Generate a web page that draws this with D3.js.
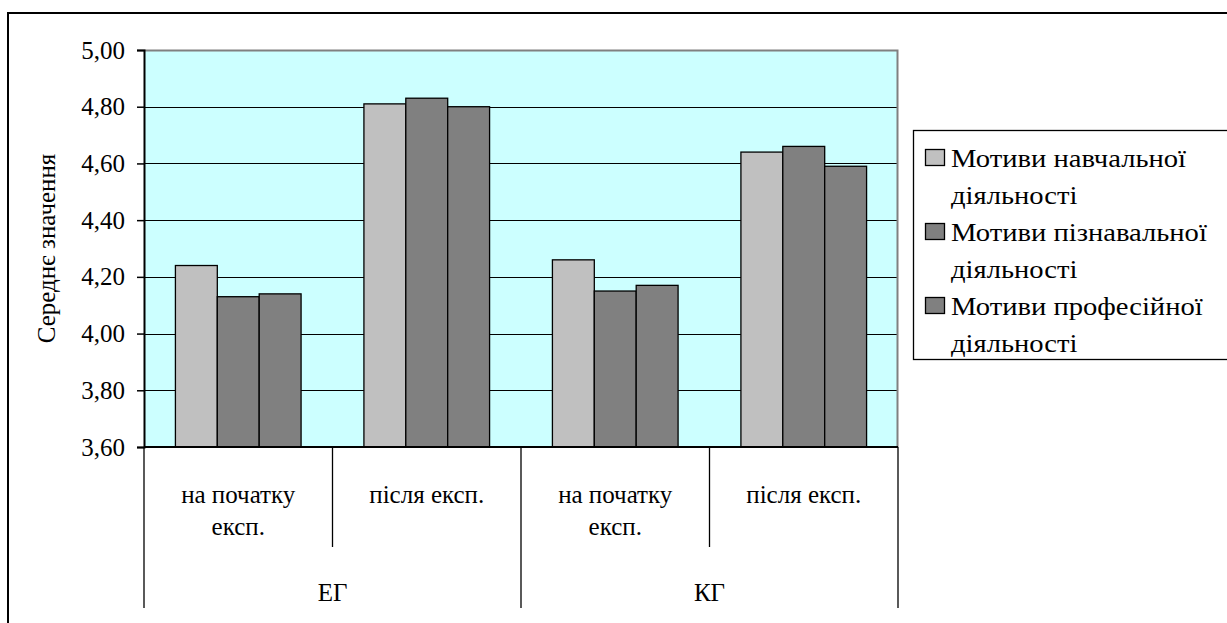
<!DOCTYPE html>
<html>
<head>
<meta charset="utf-8">
<script src="https://cdn.jsdelivr.net/npm/d3@7"></script>
</head>
<body style="margin:0">
<script>
// chart data
var groups = ["ЕГ", "КГ"];
var stages = [["на початку", "експ."], ["після експ."]];
var seriesNames = [
	["Мотиви навчальної", "діяльності"],
	["Мотиви пізнавальної", "діяльності"],
	["Мотиви професійної", "діяльності"]
];
var seriesColors = ["#c0c0c0", "#808080", "#808080"];
var navchalni = [4.24, 4.81, 4.26, 4.64];
var piznavalni = [4.13, 4.83, 4.15, 4.66];
var profesiini = [4.14, 4.80, 4.17, 4.59];
var yTicks = [3.6, 3.8, 4.0, 4.2, 4.4, 4.6, 4.8, 5.0];
var yTitle = "Середнє значення";

var values = [navchalni, piznavalni, profesiini];

var W = 1227, H = 623;
var plot = { left: 144, right: 898, top: 50, bottom: 447 };
var fontSize = 25;
var serif = "'Liberation Serif'";

var svg = d3.select("body")
	.append("svg")
	.attr("width", W)
	.attr("height", H)
	.attr("font-family", "Liberation Serif");

// every label goes through here so the serif face sticks
function label(parent, size){
	return parent.append("text")
		.attr("font-size", size)
		.attr("font-family", "Liberation Serif")
		.style("font-family", serif);
}

// outer chart frame (runs off the right and bottom edges)
svg.append("rect")
	.attr("x", 8)
	.attr("y", 13)
	.attr("width", W + 20)
	.attr("height", H + 20)
	.attr("fill", "#fff")
	.attr("stroke", "#000")
	.attr("stroke-width", 2);

// categories: every group x stage
var cats = [];
groups.forEach(function(g, gi){
	stages.forEach(function(s, si){
		cats.push(gi + "-" + si);
	});
});

var x0 = d3.scaleBand()
	.domain(cats)
	.range([plot.left, plot.right])
	.padding(0);

var x1 = d3.scaleBand()
	.domain(d3.range(seriesNames.length))
	.range([0, x0.bandwidth()])
	.paddingInner(0)
	.paddingOuter(0.75);

var y = d3.scaleLinear()
	.domain([3.6, 5.0])
	.range([plot.bottom, plot.top]);

var fmt = function(d){ return d3.format(".2f")(d).replace(".", ","); };

// plot background
svg.append("rect")
	.attr("x", plot.left)
	.attr("y", plot.top)
	.attr("width", plot.right - plot.left)
	.attr("height", plot.bottom - plot.top)
	.attr("fill", "#ccffff");

// gridlines
svg.append("g")
	.selectAll("line")
	.data(yTicks.slice(1, -1))
	.enter().append("line")
	.attr("x1", plot.left)
	.attr("x2", plot.right)
	.attr("y1", function(d){ return Math.round(y(d)) + 0.5; })
	.attr("y2", function(d){ return Math.round(y(d)) + 0.5; })
	.attr("stroke", "#000")
	.attr("stroke-width", 1);

// plot border top + right (grey)
svg.append("path")
	.attr("d", "M" + plot.left + "," + (plot.top + 0.5) + "H" + (plot.right - 0.5) + "V" + plot.bottom)
	.attr("fill", "none")
	.attr("stroke", "#808080")
	.attr("stroke-width", 2);

// bars
values.forEach(function(vals, si){
	svg.append("g")
		.selectAll("rect")
		.data(vals)
		.enter().append("rect")
		.attr("x", function(d, i){ return x0(cats[i]) + x1(si); })
		.attr("y", function(d){ return y(d); })
		.attr("width", x1.bandwidth())
		.attr("height", function(d){ return plot.bottom - y(d); })
		.attr("fill", seriesColors[si])
		.attr("stroke", "#000")
		.attr("stroke-width", 1.3);
});

// y axis (line + ticks from d3, labels below)
var yAxis = d3.axisLeft(y)
	.tickValues(yTicks)
	.tickSize(7)
	.tickFormat("");

var yAxisGroup = svg.append("g")
	.attr("transform", "translate(" + plot.left + ",0)")
	.call(yAxis);
yAxisGroup.select(".domain").attr("stroke", "#000").attr("stroke-width", 2);
yAxisGroup.selectAll(".tick line").attr("stroke", "#000").attr("stroke-width", 1.5);

svg.append("g")
	.selectAll("text")
	.data(yTicks)
	.enter().append("text")
	.attr("x", plot.left - 19)
	.attr("y", function(d){ return y(d); })
	.attr("dy", "0.34em")
	.attr("text-anchor", "end")
	.attr("font-size", fontSize)
	.attr("font-family", "Liberation Serif")
	.style("font-family", serif)
	.text(fmt);

label(svg, fontSize)
	.attr("transform", "translate(46," + ((plot.top + plot.bottom) / 2) + ") rotate(-90)")
	.attr("text-anchor", "middle")
	.attr("dy", "0.35em")
	.text(yTitle);

// category axis line
svg.append("line")
	.attr("x1", plot.left)
	.attr("x2", plot.right)
	.attr("y1", plot.bottom)
	.attr("y2", plot.bottom)
	.attr("stroke", "#000")
	.attr("stroke-width", 2);

// dividers: short ones between stages, long ones between groups
var innerBottom = 547, outerBottom = 608;
var dividerX = cats.map(function(c){ return x0(c); }).concat([plot.right]);
svg.append("g")
	.selectAll("line")
	.data(dividerX)
	.enter().append("line")
	.attr("x1", function(d){ return d; })
	.attr("x2", function(d){ return d; })
	.attr("y1", plot.bottom)
	.attr("y2", function(d, i){ return i % stages.length === 0 ? outerBottom : innerBottom; })
	.attr("stroke", "#000")
	.attr("stroke-width", 1.3);

// stage labels
cats.forEach(function(c, i){
	var lines = stages[i % stages.length];
	lines.forEach(function(line, li){
		label(svg, fontSize)
			.attr("x", x0(c) + x0.bandwidth() / 2)
			.attr("y", 503 + li * 32)
			.attr("text-anchor", "middle")
			.text(line);
	});
});

// group labels
groups.forEach(function(g, gi){
	var start = x0(cats[gi * stages.length]);
	var end = x0(cats[gi * stages.length + stages.length - 1]) + x0.bandwidth();
	label(svg, fontSize)
		.attr("x", (start + end) / 2)
		.attr("y", 601)
		.attr("text-anchor", "middle")
		.text(g);
});

// legend
var legend = svg.append("g");
legend.append("rect")
	.attr("x", 913.5)
	.attr("y", 130.5)
	.attr("width", 400)
	.attr("height", 229)
	.attr("fill", "#fff")
	.attr("stroke", "#000")
	.attr("stroke-width", 1.3);

var rowH = 37;
var legendStretch = 1.1;
seriesNames.forEach(function(name, i){
	var rowY = 158 + i * 2 * rowH;
	legend.append("rect")
		.attr("x", 925.5)
		.attr("y", rowY - 8.5)
		.attr("width", 19)
		.attr("height", 16)
		.attr("fill", seriesColors[i])
		.attr("stroke", "#000")
		.attr("stroke-width", 1.3);
	name.forEach(function(line, li){
		label(legend, 26)
			.attr("transform", "translate(951," + (rowY + 9 + li * rowH) + ") scale(" + legendStretch + ",1)")
			.text(line);
	});
});
</script>
</body>
</html>
